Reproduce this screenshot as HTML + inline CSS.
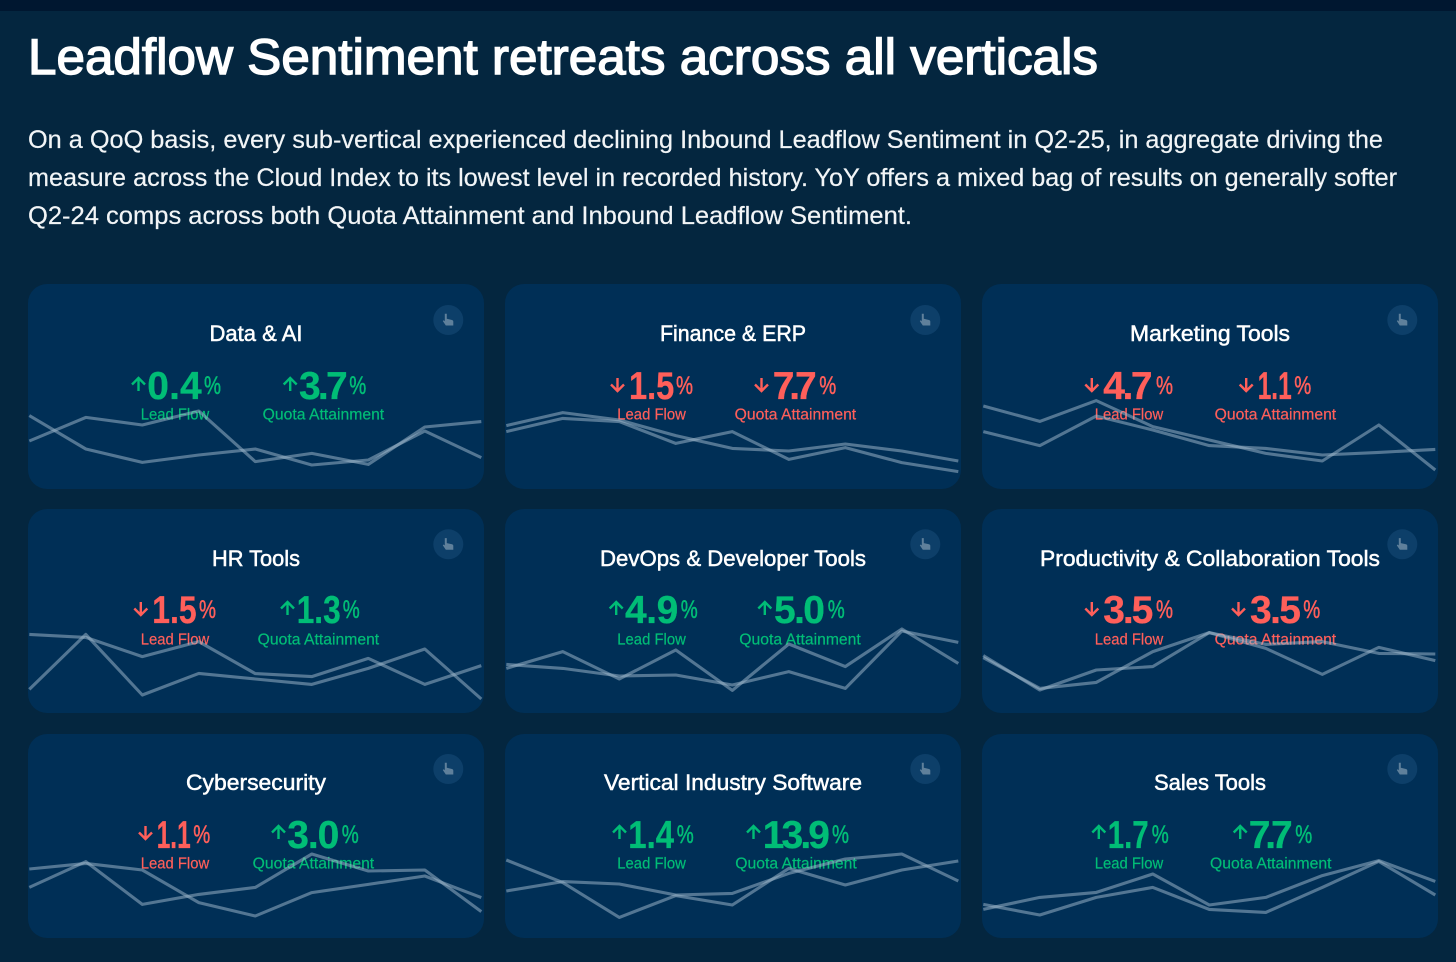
<!DOCTYPE html>
<html lang="en">
<head>
<meta charset="utf-8">
<title>Leadflow Sentiment retreats across all verticals</title>
<style>
html,body{margin:0;padding:0;background:#04263f;}
body{position:relative;width:1456px;height:962px;overflow:hidden;font-family:"Liberation Sans",sans-serif;}
.topbar{position:absolute;left:0;top:0;width:1456px;height:11px;background:#001730;}
.head{position:absolute;left:0;top:0;width:1456px;height:260px;}
.h1{font-size:50px;fill:#fff;stroke:#fff;stroke-width:1.4px;}
.p{font-size:25px;fill:#f2f5f7;stroke:#f2f5f7;stroke-width:.2px;}
.card{position:absolute;width:456px;border-radius:19px;background:#002f56;overflow:hidden;}
.card svg{position:absolute;left:0;top:0;width:456px;height:205px;overflow:visible;}
.t{font-size:22px;fill:#fff;stroke:#fff;stroke-width:.5px;text-anchor:middle;}
.d{font-size:39px;font-weight:700;}
.pc{font-size:25px;stroke-width:.5px;}
.l{font-size:15.5px;stroke-width:.2px;}
.g text{fill:#00bd76;stroke:#00bd76;}.g path{stroke:#00bd76;}
.r text{fill:#ff5f5a;stroke:#ff5f5a;}.r path{stroke:#ff5f5a;}
.d{stroke-width:.3px;}
.g text.d,.r text.d{stroke-width:.3px;}
.g text.pc,.r text.pc{stroke-width:.5px;}
.g text.l,.r text.l{stroke-width:.2px;}
.g path,.r path{fill:none;stroke-width:2.4;}
.btn{fill:#0d3f69;}
.hand{fill:#5f809b;}
.line{fill:none;stroke:#a0b8cc;stroke-opacity:.52;stroke-width:3.1;stroke-linejoin:round;}
</style>
</head>
<body>
<div class="topbar"></div>
<svg class="head" viewBox="0 0 1456 260">
<text class="h1" x="28" y="74" textLength="1070" lengthAdjust="spacingAndGlyphs">Leadflow Sentiment retreats across all verticals</text>
<text class="p" x="28" y="148" textLength="1355" lengthAdjust="spacingAndGlyphs">On a QoQ basis, every sub-vertical experienced declining Inbound Leadflow Sentiment in Q2-25, in aggregate driving the</text>
<text class="p" x="28" y="186" textLength="1369" lengthAdjust="spacingAndGlyphs">measure across the Cloud Index to its lowest level in recorded history. YoY offers a mixed bag of results on generally softer</text>
<text class="p" x="28" y="224" textLength="884" lengthAdjust="spacingAndGlyphs">Q2-24 comps across both Quota Attainment and Inbound Leadflow Sentiment.</text>
</svg>

<div class="card" style="left:28px;top:284px;height:205px">
<svg id="chart-data-ai">
<text class="t" x="228" y="57" textLength="93" lengthAdjust="spacingAndGlyphs">Data &amp; AI</text>
<g class="g">
<path d="M7.5 14V1M1 7.5L7.5 1L14 7.5" transform="translate(103,93)"/>
<text class="d" x="119.3" y="115" textLength="54.4" lengthAdjust="spacing">0.4</text>
<text class="pc" x="176" y="110" textLength="17" lengthAdjust="spacingAndGlyphs">%</text>
<text class="l" x="112.7" y="135.6" textLength="68.5" lengthAdjust="spacingAndGlyphs">Lead Flow</text>
</g>
<g class="g">
<path d="M7.5 14V1M1 7.5L7.5 1L14 7.5" transform="translate(254.7,93)"/>
<text class="d" x="271" y="115" textLength="48.7" lengthAdjust="spacing">3.7</text>
<text class="pc" x="321.3" y="110" textLength="17" lengthAdjust="spacingAndGlyphs">%</text>
<text class="l" x="234.7" y="135.6" textLength="121.5" lengthAdjust="spacingAndGlyphs">Quota Attainment</text>
</g>
<g><circle class="btn" cx="420.3" cy="36" r="15"/><path class="hand" transform="translate(420.3,36)" d="M-3.5-6.2h2v5l5.2 1.2c.8.2 1.3.8 1.3 1.6V5.5H-2.5L-5.5 1l1-.8 1 1z"/></g>
</svg>
</div>

<div class="card" style="left:505px;top:284px;height:205px">
<svg id="chart-finance-erp">
<text class="t" x="228" y="57" textLength="146" lengthAdjust="spacingAndGlyphs">Finance &amp; ERP</text>
<g class="r">
<path d="M7.5 0V13M1 6.5L7.5 13L14 6.5" transform="translate(105,94)"/>
<text class="d" x="124" y="115" textLength="45.3" lengthAdjust="spacingAndGlyphs">1.5</text>
<text class="pc" x="171" y="110" textLength="17" lengthAdjust="spacingAndGlyphs">%</text>
<text class="l" x="112.3" y="135.6" textLength="68.5" lengthAdjust="spacingAndGlyphs">Lead Flow</text>
</g>
<g class="r">
<path d="M7.5 0V13M1 6.5L7.5 13L14 6.5" transform="translate(249,94)"/>
<text class="d" x="267.7" y="115" textLength="44" lengthAdjust="spacing">7.7</text>
<text class="pc" x="314.3" y="110" textLength="17" lengthAdjust="spacingAndGlyphs">%</text>
<text class="l" x="229.7" y="135.6" textLength="121.5" lengthAdjust="spacingAndGlyphs">Quota Attainment</text>
</g>
<g><circle class="btn" cx="420.3" cy="36" r="15"/><path class="hand" transform="translate(420.3,36)" d="M-3.5-6.2h2v5l5.2 1.2c.8.2 1.3.8 1.3 1.6V5.5H-2.5L-5.5 1l1-.8 1 1z"/></g>
</svg>
</div>

<div class="card" style="left:982px;top:284px;height:205px">
<svg id="chart-marketing">
<text class="t" x="228" y="57" textLength="160" lengthAdjust="spacingAndGlyphs">Marketing Tools</text>
<g class="r">
<path d="M7.5 0V13M1 6.5L7.5 13L14 6.5" transform="translate(102.3,94)"/>
<text class="d" x="121.3" y="115" textLength="49.3" lengthAdjust="spacing">4.7</text>
<text class="pc" x="174" y="110" textLength="17" lengthAdjust="spacingAndGlyphs">%</text>
<text class="l" x="112.7" y="135.6" textLength="68.5" lengthAdjust="spacingAndGlyphs">Lead Flow</text>
</g>
<g class="r">
<path d="M7.5 0V13M1 6.5L7.5 13L14 6.5" transform="translate(256.7,94)"/>
<text class="d" x="275.7" y="115" textLength="34" lengthAdjust="spacingAndGlyphs">1.1</text>
<text class="pc" x="312.3" y="110" textLength="17" lengthAdjust="spacingAndGlyphs">%</text>
<text class="l" x="232.7" y="135.6" textLength="121.5" lengthAdjust="spacingAndGlyphs">Quota Attainment</text>
</g>
<g><circle class="btn" cx="420.3" cy="36" r="15"/><path class="hand" transform="translate(420.3,36)" d="M-3.5-6.2h2v5l5.2 1.2c.8.2 1.3.8 1.3 1.6V5.5H-2.5L-5.5 1l1-.8 1 1z"/></g>
</svg>
</div>

<div class="card" style="left:28px;top:509px;height:204px">
<svg id="chart-hr">
<text class="t" x="228" y="57" textLength="88" lengthAdjust="spacingAndGlyphs">HR Tools</text>
<g class="r">
<path d="M7.5 0V13M1 6.5L7.5 13L14 6.5" transform="translate(105.3,93)"/>
<text class="d" x="124.3" y="114" textLength="44.3" lengthAdjust="spacingAndGlyphs">1.5</text>
<text class="pc" x="171" y="109" textLength="17" lengthAdjust="spacingAndGlyphs">%</text>
<text class="l" x="112.7" y="135.6" textLength="68.5" lengthAdjust="spacingAndGlyphs">Lead Flow</text>
</g>
<g class="g">
<path d="M7.5 14V1M1 7.5L7.5 1L14 7.5" transform="translate(252,92)"/>
<text class="d" x="268.7" y="114" textLength="44" lengthAdjust="spacingAndGlyphs">1.3</text>
<text class="pc" x="314.7" y="109" textLength="17" lengthAdjust="spacingAndGlyphs">%</text>
<text class="l" x="229.7" y="135.6" textLength="121.5" lengthAdjust="spacingAndGlyphs">Quota Attainment</text>
</g>
<g><circle class="btn" cx="420.3" cy="35.3" r="15"/><path class="hand" transform="translate(420.3,35.3)" d="M-3.5-6.2h2v5l5.2 1.2c.8.2 1.3.8 1.3 1.6V5.5H-2.5L-5.5 1l1-.8 1 1z"/></g>
</svg>
</div>

<div class="card" style="left:505px;top:509px;height:204px">
<svg id="chart-devops">
<text class="t" x="228" y="57" textLength="266" lengthAdjust="spacingAndGlyphs">DevOps &amp; Developer Tools</text>
<g class="g">
<path d="M7.5 14V1M1 7.5L7.5 1L14 7.5" transform="translate(103.7,92)"/>
<text class="d" x="120" y="114" textLength="53.3" lengthAdjust="spacing">4.9</text>
<text class="pc" x="175.7" y="109" textLength="17" lengthAdjust="spacingAndGlyphs">%</text>
<text class="l" x="112.3" y="135.6" textLength="68.5" lengthAdjust="spacingAndGlyphs">Lead Flow</text>
</g>
<g class="g">
<path d="M7.5 14V1M1 7.5L7.5 1L14 7.5" transform="translate(252.3,92)"/>
<text class="d" x="269" y="114" textLength="51" lengthAdjust="spacing">5.0</text>
<text class="pc" x="322.7" y="109" textLength="17" lengthAdjust="spacingAndGlyphs">%</text>
<text class="l" x="234.3" y="135.6" textLength="121.5" lengthAdjust="spacingAndGlyphs">Quota Attainment</text>
</g>
<g><circle class="btn" cx="420.3" cy="35.3" r="15"/><path class="hand" transform="translate(420.3,35.3)" d="M-3.5-6.2h2v5l5.2 1.2c.8.2 1.3.8 1.3 1.6V5.5H-2.5L-5.5 1l1-.8 1 1z"/></g>
</svg>
</div>

<div class="card" style="left:982px;top:509px;height:204px">
<svg id="chart-productivity">
<text class="t" x="228" y="57" textLength="340" lengthAdjust="spacingAndGlyphs">Productivity &amp; Collaboration Tools</text>
<g class="r">
<path d="M7.5 0V13M1 6.5L7.5 13L14 6.5" transform="translate(102.3,93)"/>
<text class="d" x="121.3" y="114" textLength="50" lengthAdjust="spacing">3.5</text>
<text class="pc" x="174" y="109" textLength="17" lengthAdjust="spacingAndGlyphs">%</text>
<text class="l" x="112.7" y="135.6" textLength="68.5" lengthAdjust="spacingAndGlyphs">Lead Flow</text>
</g>
<g class="r">
<path d="M7.5 0V13M1 6.5L7.5 13L14 6.5" transform="translate(249,93)"/>
<text class="d" x="268" y="114" textLength="51" lengthAdjust="spacing">3.5</text>
<text class="pc" x="321.3" y="109" textLength="17" lengthAdjust="spacingAndGlyphs">%</text>
<text class="l" x="232.7" y="135.6" textLength="121.5" lengthAdjust="spacingAndGlyphs">Quota Attainment</text>
</g>
<g><circle class="btn" cx="420.3" cy="35.3" r="15"/><path class="hand" transform="translate(420.3,35.3)" d="M-3.5-6.2h2v5l5.2 1.2c.8.2 1.3.8 1.3 1.6V5.5H-2.5L-5.5 1l1-.8 1 1z"/></g>
</svg>
</div>

<div class="card" style="left:28px;top:734px;height:204px">
<svg id="chart-cyber">
<text class="t" x="228" y="56" textLength="140" lengthAdjust="spacingAndGlyphs">Cybersecurity</text>
<g class="r">
<path d="M7.5 0V13M1 6.5L7.5 13L14 6.5" transform="translate(110,92)"/>
<text class="d" x="128.7" y="114" textLength="34" lengthAdjust="spacingAndGlyphs">1.1</text>
<text class="pc" x="165.3" y="109" textLength="17" lengthAdjust="spacingAndGlyphs">%</text>
<text class="l" x="112.7" y="134.6" textLength="68.5" lengthAdjust="spacingAndGlyphs">Lead Flow</text>
</g>
<g class="g">
<path d="M7.5 14V1M1 7.5L7.5 1L14 7.5" transform="translate(243,91)"/>
<text class="d" x="259.3" y="114" textLength="52" lengthAdjust="spacing">3.0</text>
<text class="pc" x="313.7" y="109" textLength="17" lengthAdjust="spacingAndGlyphs">%</text>
<text class="l" x="224.7" y="134.6" textLength="121.5" lengthAdjust="spacingAndGlyphs">Quota Attainment</text>
</g>
<g><circle class="btn" cx="420.3" cy="35" r="15"/><path class="hand" transform="translate(420.3,35)" d="M-3.5-6.2h2v5l5.2 1.2c.8.2 1.3.8 1.3 1.6V5.5H-2.5L-5.5 1l1-.8 1 1z"/></g>
</svg>
</div>

<div class="card" style="left:505px;top:734px;height:204px">
<svg id="chart-vertical">
<text class="t" x="228" y="56" textLength="258" lengthAdjust="spacingAndGlyphs">Vertical Industry Software</text>
<g class="g">
<path d="M7.5 14V1M1 7.5L7.5 1L14 7.5" transform="translate(107,91)"/>
<text class="d" x="123.3" y="114" textLength="45.7" lengthAdjust="spacingAndGlyphs">1.4</text>
<text class="pc" x="171.7" y="109" textLength="17" lengthAdjust="spacingAndGlyphs">%</text>
<text class="l" x="112.3" y="134.6" textLength="68.5" lengthAdjust="spacingAndGlyphs">Lead Flow</text>
</g>
<g class="g">
<path d="M7.5 14V1M1 7.5L7.5 1L14 7.5" transform="translate(241,91)"/>
<text class="d" x="257.7" y="114" textLength="67.3" lengthAdjust="spacing">13.9</text>
<text class="pc" x="327" y="109" textLength="17" lengthAdjust="spacingAndGlyphs">%</text>
<text class="l" x="230.3" y="134.6" textLength="121.5" lengthAdjust="spacingAndGlyphs">Quota Attainment</text>
</g>
<g><circle class="btn" cx="420.3" cy="35" r="15"/><path class="hand" transform="translate(420.3,35)" d="M-3.5-6.2h2v5l5.2 1.2c.8.2 1.3.8 1.3 1.6V5.5H-2.5L-5.5 1l1-.8 1 1z"/></g>
</svg>
</div>

<div class="card" style="left:982px;top:734px;height:204px">
<svg id="chart-sales">
<text class="t" x="228" y="56" textLength="112" lengthAdjust="spacingAndGlyphs">Sales Tools</text>
<g class="g">
<path d="M7.5 14V1M1 7.5L7.5 1L14 7.5" transform="translate(109.3,91)"/>
<text class="d" x="125.7" y="114" textLength="41" lengthAdjust="spacingAndGlyphs">1.7</text>
<text class="pc" x="169.7" y="109" textLength="17" lengthAdjust="spacingAndGlyphs">%</text>
<text class="l" x="112.7" y="134.6" textLength="68.5" lengthAdjust="spacingAndGlyphs">Lead Flow</text>
</g>
<g class="g">
<path d="M7.5 14V1M1 7.5L7.5 1L14 7.5" transform="translate(250.7,91)"/>
<text class="d" x="266.7" y="114" textLength="44" lengthAdjust="spacing">7.7</text>
<text class="pc" x="313.3" y="109" textLength="17" lengthAdjust="spacingAndGlyphs">%</text>
<text class="l" x="228" y="134.6" textLength="121.5" lengthAdjust="spacingAndGlyphs">Quota Attainment</text>
</g>
<g><circle class="btn" cx="420.3" cy="35" r="15"/><path class="hand" transform="translate(420.3,35)" d="M-3.5-6.2h2v5l5.2 1.2c.8.2 1.3.8 1.3 1.6V5.5H-2.5L-5.5 1l1-.8 1 1z"/></g>
</svg>
</div>

<script>
// Sparkline readings on a 0-100 index, nine periods per series.
var dataAiLead = [24, 35.8, 32, 39, 13.7, 17.8, 12.3, 31, 33.7];
var dataAiQuota = [36.7, 20, 13.3, 17, 20, 12, 14.5, 29, 15.7];
var financeLead = [28.7, 35.3, 33.7, 22.8, 28.7, 14.8, 20.7, 13.2, 8.7];
var financeQuota = [31.7, 38.2, 34.5, 26.7, 20.3, 19, 22.5, 19, 14];
var marketingLead = [41.5, 33.8, 44.2, 31.2, 24.5, 17.8, 14, 32, 9.5];
var marketingQuota = [28.7, 21.7, 36.5, 29.5, 21.7, 20.3, 17, 18.3, 19.8];
var hrLead = [39.3, 37.8, 28.2, 35.7, 19.7, 18.2, 27.3, 14.3, 23.7];
var hrQuota = [11.8, 39.3, 9, 19.8, 17, 14.3, 22.3, 32, 7];
var devopsLead = [22.3, 30.7, 17, 31.5, 11.3, 34.5, 23.2, 42, 24.8];
var devopsQuota = [24.3, 22.3, 18.5, 19, 14, 20.7, 12.3, 41, 35.3];
var productivityLead = [28.7, 11.5, 21.5, 23.2, 40.2, 32.3, 19.3, 32.8, 26.2];
var productivityQuota = [27.7, 12.3, 15.3, 30.7, 40.2, 34.3, 35.7, 29.8, 29.5];
var cyberLead = [25.3, 38.2, 16.8, 21.8, 25.3, 42, 33.5, 34, 13.2];
var cyberQuota = [34.5, 37.3, 34, 17.7, 11, 22.7, 26.8, 31, 20.2];
var verticalLead = [39, 27.7, 10.3, 21.2, 16.5, 34.8, 26.5, 34, 38.5];
var verticalQuota = [23.5, 28.2, 27, 21.5, 22.3, 32.3, 39.5, 42, 28.5];
var salesLead = [16.8, 11.5, 20.3, 25.3, 14.3, 12.8, 25.3, 38.3, 21.5];
var salesQuota = [14.3, 20.3, 22.8, 32, 16.5, 20.3, 31.2, 38.7, 28.3];

function xScale(i) { return 1.3 + i * 56.5; }
function yScale(v, height) { return height - v * 2; }

function drawSeries(svgId, height, values, name) {
  var svg = document.getElementById(svgId);
  var line = document.createElementNS('http://www.w3.org/2000/svg', 'polyline');
  var pts = values.map(function (v, i) {
    return xScale(i).toFixed(1) + ',' + yScale(v, height).toFixed(1);
  }).join(' ');
  line.setAttribute('points', pts);
  line.setAttribute('class', 'line');
  
  
  svg.appendChild(line);
}

drawSeries('chart-data-ai', 205, dataAiLead, 'lead-flow-line');
drawSeries('chart-data-ai', 205, dataAiQuota, 'quota-attainment-line');
drawSeries('chart-finance-erp', 205, financeLead, 'lead-flow-line');
drawSeries('chart-finance-erp', 205, financeQuota, 'quota-attainment-line');
drawSeries('chart-marketing', 205, marketingLead, 'lead-flow-line');
drawSeries('chart-marketing', 205, marketingQuota, 'quota-attainment-line');
drawSeries('chart-hr', 204, hrLead, 'lead-flow-line');
drawSeries('chart-hr', 204, hrQuota, 'quota-attainment-line');
drawSeries('chart-devops', 204, devopsLead, 'lead-flow-line');
drawSeries('chart-devops', 204, devopsQuota, 'quota-attainment-line');
drawSeries('chart-productivity', 204, productivityLead, 'lead-flow-line');
drawSeries('chart-productivity', 204, productivityQuota, 'quota-attainment-line');
drawSeries('chart-cyber', 204, cyberLead, 'lead-flow-line');
drawSeries('chart-cyber', 204, cyberQuota, 'quota-attainment-line');
drawSeries('chart-vertical', 204, verticalLead, 'lead-flow-line');
drawSeries('chart-vertical', 204, verticalQuota, 'quota-attainment-line');
drawSeries('chart-sales', 204, salesLead, 'lead-flow-line');
drawSeries('chart-sales', 204, salesQuota, 'quota-attainment-line');
</script>
</body>
</html>
